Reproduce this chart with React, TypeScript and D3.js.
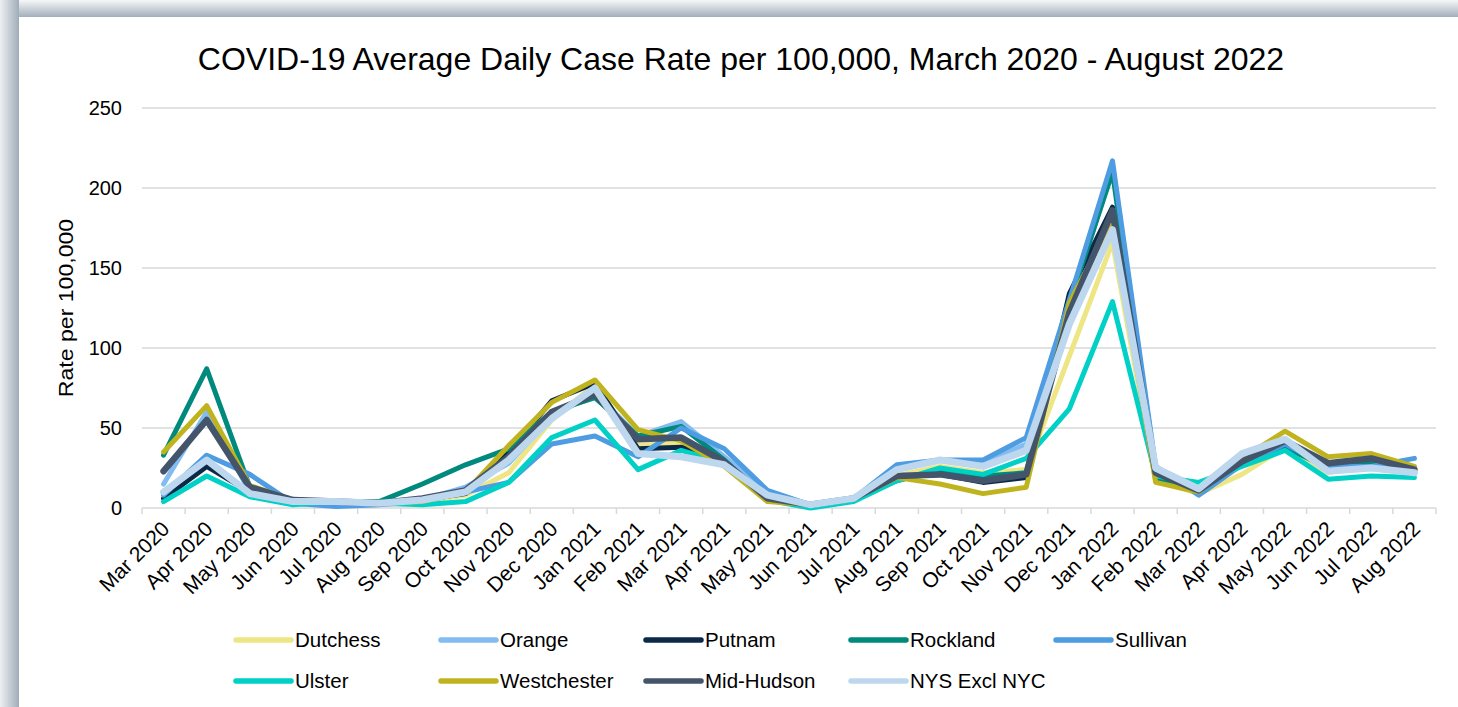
import React from "react";
import * as d3 from "d3";

const months = ["Mar 2020","Apr 2020","May 2020","Jun 2020","Jul 2020","Aug 2020","Sep 2020","Oct 2020","Nov 2020","Dec 2020","Jan 2021","Feb 2021","Mar 2021","Apr 2021","May 2021","Jun 2021","Jul 2021","Aug 2021","Sep 2021","Oct 2021","Nov 2021","Dec 2021","Jan 2022","Feb 2022","Mar 2022","Apr 2022","May 2022","Jun 2022","Jul 2022","Aug 2022"];

const dutchess = [8, 28, 10, 5, 4, 3, 4, 8, 22, 55, 77, 39, 41, 27, 5, 2, 6, 20, 26, 22, 24, 95, 166, 17, 9, 21, 38, 22, 30, 22];
const orange = [15, 60, 10, 4, 3, 3, 5, 13, 28, 57, 72, 45, 54, 32, 10, 2, 6, 25, 30, 28, 40, 125, 213, 24, 9, 30, 42, 24, 27, 23];
const putnam = [6, 26, 10, 5, 4, 3, 5, 9, 35, 67, 78, 37, 38, 29, 5, 2, 6, 20, 21, 16, 19, 134, 188, 20, 10, 28, 40, 27, 31, 24];
const rockland = [33, 87, 13, 5, 4, 4, 15, 27, 37, 60, 69, 45, 51, 30, 5, 2, 6, 17, 24, 20, 22, 128, 210, 18, 11, 28, 38, 25, 29, 25];
const sullivan = [8, 33, 21, 3, 1, 2, 4, 10, 16, 40, 45, 32, 50, 37, 11, 2, 6, 27, 30, 30, 44, 130, 217, 26, 8, 27, 40, 26, 26, 31];
const ulster = [4, 20, 7, 2, 4, 3, 2, 4, 16, 44, 55, 24, 36, 28, 5, 0, 4, 17, 25, 21, 31, 62, 129, 20, 16, 26, 36, 18, 20, 19];
const westchester = [35, 64, 14, 5, 4, 3, 4, 10, 39, 66, 80, 49, 42, 26, 4, 2, 6, 19, 15, 9, 13, 128, 180, 16, 10, 31, 48, 32, 34, 26];
const midHudson = [23, 55, 13, 5, 4, 3, 6, 11, 32, 60, 71, 43, 44, 29, 6, 2, 6, 20, 21, 17, 21, 122, 186, 22, 11, 29, 42, 28, 31, 24];
const nysExclNyc = [10, 30, 9, 4, 4, 3, 5, 10, 30, 56, 75, 34, 32, 27, 8, 2, 6, 24, 30, 26, 36, 115, 174, 25, 12, 34, 43, 23, 25, 22];

const seriesNames = ["Dutchess","Orange","Putnam","Rockland","Sullivan","Ulster","Westchester","Mid-Hudson","NYS Excl NYC"];
const seriesValues = [dutchess, orange, putnam, rockland, sullivan, ulster, westchester, midHudson, nysExclNyc];
const seriesColors = ["#EEE685","#82BCF1","#0C2A48","#00897D","#4E9CE2","#00D0C6","#BFB41E","#44546A","#BDD7EE"];
const seriesWidths = [5,5,5,5,5,5,5,6.5,7];

const yTicks = [0, 50, 100, 150, 200, 250];

const W = 1458, H = 707;
const FONT = "'Liberation Sans', Arial, sans-serif";

export default function App() {
  const x = d3.scaleBand<string>().domain(months).range([142, 1436]);
  const y = d3.scaleLinear().domain([0, 250]).range([508, 108]);
  const cx = (m: string) => (x(m) as number) + x.bandwidth() / 2;
  const line = d3.line<number>().x((_, i) => cx(months[i])).y((v) => y(v));
  const tickXs = months.map((m) => x(m) as number).concat([1436]);

  const legendCols = [236, 441, 646, 851, 1056];
  const legendRows = [640, 681];

  return (
    <svg width={W} height={H} style={{ position: "absolute", left: 0, top: 0, display: "block" }} fontFamily={FONT}>
      <defs>
        <linearGradient id="topG" x1="0" y1="0" x2="0" y2="1">
          <stop offset="0" stopColor="#f6f7f8" />
          <stop offset="1" stopColor="#a2afbb" />
        </linearGradient>
        <linearGradient id="leftG" x1="0" y1="0" x2="1" y2="0">
          <stop offset="0" stopColor="#eef0f2" />
          <stop offset="1" stopColor="#9fadb9" />
        </linearGradient>
      </defs>
      <rect x={0} y={0} width={W} height={H} fill="#ffffff" />
      <rect x={0} y={0} width={W} height={17} fill="url(#topG)" />
      <rect x={0} y={0} width={19} height={H} fill="url(#leftG)" />
      <rect x={19} y={17} width={W - 19} height={H - 17} fill="#ffffff" />

      <text x={741} y={70} textAnchor="middle" fontSize={32} fill="#000">
        COVID-19 Average Daily Case Rate per 100,000, March 2020 - August 2022
      </text>

      {yTicks.map((t) => (
        <g key={t}>
          <line x1={142} x2={1436} y1={y(t)} y2={y(t)} stroke="#d9d9d9" strokeWidth={1.5} />
          <text x={122} y={y(t)} dy="0.35em" textAnchor="end" fontSize={20} fill="#000">{t}</text>
        </g>
      ))}

      {tickXs.map((tx, i) => (
        <line key={i} x1={tx} x2={tx} y1={508} y2={514} stroke="#d9d9d9" strokeWidth={1.5} />
      ))}

      {months.map((m) => (
        <text key={m} transform={`translate(${cx(m) + 2},${525}) rotate(-45)`} textAnchor="end" dy="0.35em" fontSize={21} fill="#000">
          {m}
        </text>
      ))}

      <text transform="translate(66,308) rotate(-90) scale(1.1,1)" textAnchor="middle" dy="0.35em" fontSize={21} fill="#000">
        Rate per 100,000
      </text>

      {seriesValues.map((vals, si) => (
        <path key={seriesNames[si]} d={line(vals) || ""} fill="none" stroke={seriesColors[si]} strokeWidth={seriesWidths[si]} strokeLinejoin="round" strokeLinecap="round" />
      ))}

      {seriesNames.map((name, si) => {
        const col = legendCols[si % 5];
        const row = legendRows[Math.floor(si / 5)];
        return (
          <g key={name}>
            <line x1={col} x2={col + 55} y1={row} y2={row} stroke={seriesColors[si]} strokeWidth={5.5} strokeLinecap="round" />
            <text x={col + 59} y={row} dy="0.35em" fontSize={20.5} fill="#000">{name}</text>
          </g>
        );
      })}
    </svg>
  );
}
